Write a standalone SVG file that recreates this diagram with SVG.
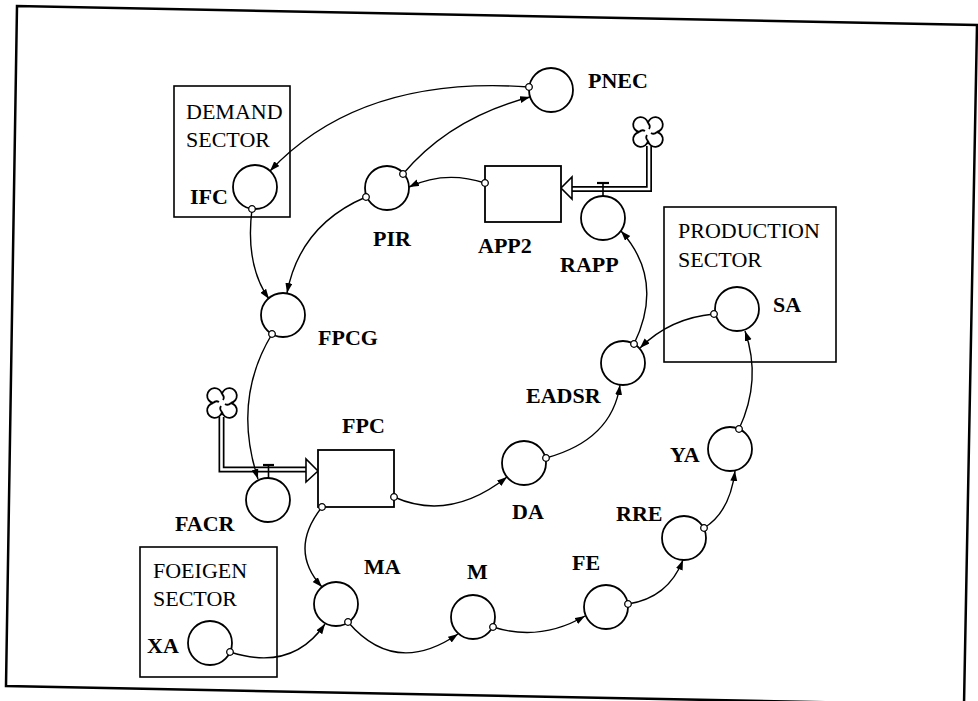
<svg xmlns="http://www.w3.org/2000/svg" width="978" height="701" viewBox="0 0 978 701">
<defs>
<marker id="arr" markerUnits="userSpaceOnUse" markerWidth="11" markerHeight="8" refX="10" refY="3.5" orient="auto" viewBox="0 0 11 8">
<path d="M0,0 L10,3.5 L0,7 z" fill="#000"/>
</marker>
<marker id="org" markerUnits="userSpaceOnUse" markerWidth="10" markerHeight="10" refX="0" refY="0" viewBox="-5 -5 10 10">
<circle cx="0" cy="0" r="3.3" fill="#fff" stroke="#000" stroke-width="1.3"/>
</marker>
<g id="cloudshape">
<path d="M-9,0 A7.5,7.5 0 1 1 0,-9 A7.5,7.5 0 1 1 9,0 A7.5,7.5 0 1 1 0,9 A7.5,7.5 0 1 1 -9,0 Z M0,-9 Q3,-6 1,-3 M9,0 Q6,3 3,1 M0,9 Q-3,6 -1,3 M-9,0 Q-6,-3 -3,-1" fill="#fff" stroke="#000" stroke-width="1.8"/>
</g>
</defs>
<style>
.aux{fill:#fff;stroke:#000;stroke-width:1.8}
.stock{fill:#fff;stroke:#000;stroke-width:1.8}
.sector{fill:none;stroke:#000;stroke-width:1.6}
.lbl{font-family:"Liberation Serif","Times New Roman",serif;font-weight:bold;font-size:22px;fill:#000}
.sec{font-family:"Liberation Serif","Times New Roman",serif;font-size:22px;fill:#000}
.con{fill:none;stroke:#000;stroke-width:1.4;marker-end:url(#arr);marker-start:url(#org)}
.pipeo{fill:none;stroke:#000;stroke-width:6;stroke-linejoin:miter}
.pipei{fill:none;stroke:#fff;stroke-width:2.6;stroke-linejoin:miter}
</style>
<rect width="978" height="701" fill="#fff"/>
<path d="M6,686 L17,6 L977,25 L964,705 Z" fill="none" stroke="#000" stroke-width="2.5"/>

<g id="demand-sector">
<rect class="sector" x="174" y="86" width="116" height="131"/>
<text class="sec" x="186" y="119">DEMAND</text>
<text class="sec" x="186" y="147">SECTOR</text>
</g>
<g id="production-sector">
<rect class="sector" x="664" y="207" width="172" height="155"/>
<text class="sec" x="678" y="238">PRODUCTION</text>
<text class="sec" x="678" y="267">SECTOR</text>
</g>
<g id="foreign-sector">
<rect class="sector" x="140" y="547" width="137" height="130"/>
<text class="sec" x="153" y="578">FOEIGEN</text>
<text class="sec" x="153" y="606">SECTOR</text>
</g>

<g id="flow-app2">
<use href="#cloudshape" x="648" y="132"/>
<path class="pipeo" d="M649,146 V189 H572"/>
<path class="pipei" d="M649,146 V189 H572"/>
<polygon points="561,188 572,177 572,199" fill="#fff" stroke="#000" stroke-width="1.6"/>
<line x1="597" y1="183" x2="609" y2="183" stroke="#000" stroke-width="2.2"/>
<line x1="603" y1="183" x2="603" y2="196" stroke="#000" stroke-width="1.6"/>
</g>
<g id="flow-fpc">
<use href="#cloudshape" x="222" y="403"/>
<path class="pipeo" d="M221.5,417 V469.5 H306"/>
<path class="pipei" d="M221.5,417 V469.5 H306"/>
<polygon points="318,471 306,459 306,482" fill="#fff" stroke="#000" stroke-width="1.6"/>
<line x1="263" y1="465" x2="274" y2="465" stroke="#000" stroke-width="2.2"/>
<line x1="268.5" y1="465" x2="268.5" y2="478" stroke="#000" stroke-width="1.6"/>
</g>

<g id="PNEC"><circle class="aux" cx="551" cy="90" r="22"/><text class="lbl" x="588" y="88">PNEC</text></g>
<g id="IFC"><circle class="aux" cx="255" cy="187" r="22"/><text class="lbl" x="190" y="204">IFC</text></g>
<g id="PIR"><circle class="aux" cx="387" cy="188" r="22"/><text class="lbl" x="373" y="246">PIR</text></g>
<g id="APP2"><rect class="stock" x="485" y="166" width="76" height="56"/><text class="lbl" x="478" y="253">APP2</text></g>
<g id="RAPP"><circle class="aux" cx="603" cy="218" r="22"/><text class="lbl" x="560" y="272">RAPP</text></g>
<g id="SA"><circle class="aux" cx="737" cy="309" r="22"/><text class="lbl" x="773" y="312">SA</text></g>
<g id="FPCG"><circle class="aux" cx="283" cy="315" r="22"/><text class="lbl" x="318" y="345">FPCG</text></g>
<g id="EADSR"><circle class="aux" cx="623" cy="363" r="22"/><text class="lbl" x="526" y="403">EADSR</text></g>
<g id="FPC"><rect class="stock" x="318" y="450" width="76" height="57"/><text class="lbl" x="342" y="433">FPC</text></g>
<g id="FACR"><circle class="aux" cx="268" cy="500" r="22"/><text class="lbl" x="175" y="531">FACR</text></g>
<g id="DA"><circle class="aux" cx="524" cy="463" r="22"/><text class="lbl" x="512" y="519">DA</text></g>
<g id="YA"><circle class="aux" cx="730" cy="449" r="22"/><text class="lbl" x="670" y="462">YA</text></g>
<g id="RRE"><circle class="aux" cx="684" cy="538" r="22"/><text class="lbl" x="616" y="521">RRE</text></g>
<g id="FE"><circle class="aux" cx="606" cy="607" r="22"/><text class="lbl" x="572" y="570">FE</text></g>
<g id="MA"><circle class="aux" cx="336" cy="604" r="22"/><text class="lbl" x="364" y="574">MA</text></g>
<g id="M"><circle class="aux" cx="473" cy="617" r="22"/><text class="lbl" x="467" y="579">M</text></g>
<g id="XA"><circle class="aux" cx="210" cy="643" r="22"/><text class="lbl" x="147" y="653">XA</text></g>

<g id="connectors">
<path class="con" d="M529,87 Q360,75 270,171"/>
<path class="con" d="M403,174 Q450,118 530,97"/>
<path class="con" d="M485,183 Q445,170 409,187"/>
<path class="con" d="M366,197 Q300,225 287,293"/>
<path class="con" d="M252,209 Q245,265 269,299"/>
<path class="con" d="M272,334 Q232,400 258,479"/>
<path class="con" d="M394,497 Q450,522 507,477"/>
<path class="con" d="M546,458 Q612,440 620,385"/>
<path class="con" d="M634,344 Q665,280 621,231"/>
<path class="con" d="M714,314 Q670,318 640,348"/>
<path class="con" d="M739,429 Q762,380 745,331"/>
<path class="con" d="M704,528 Q730,512 735,471"/>
<path class="con" d="M628,604 Q668,598 683,560"/>
<path class="con" d="M493,627 Q540,642 585,616"/>
<path class="con" d="M348,622 Q395,677 458,634"/>
<path class="con" d="M230,652 Q292,672 325,624"/>
<path class="con" d="M322,507 Q288,550 322,587"/>
</g>
</svg>
